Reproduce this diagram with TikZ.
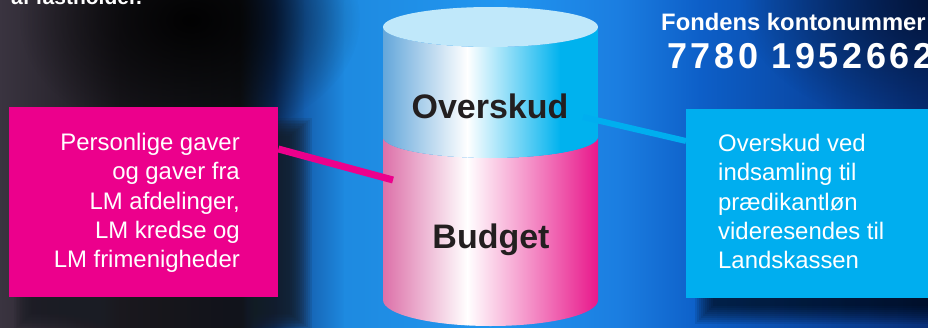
\documentclass[tikz,border=0pt]{standalone}
\usepackage{fontspec}
\setmainfont{Liberation Sans}
\usetikzlibrary{fadings,calc}
\definecolor{bgA}{HTML}{3A3440}
\definecolor{bgB}{HTML}{1A181E}
\definecolor{bgC}{HTML}{101216}
\definecolor{bgD}{HTML}{0B2A58}
\definecolor{bgE}{HTML}{1560B0}
\definecolor{bgF}{HTML}{1E8AE0}
\definecolor{bgG}{HTML}{2196F0}
\definecolor{bgH}{HTML}{1B7DE0}
\definecolor{bgI}{HTML}{0D5FC8}
\definecolor{bgJ}{HTML}{0A4AA8}
\definecolor{bgK}{HTML}{082F78}
\definecolor{navy}{HTML}{021030}
\definecolor{shad}{HTML}{1A1C24}
\definecolor{lmpink}{HTML}{EC008C}
\definecolor{lmcyan}{HTML}{00AEEF}
\definecolor{cylTop}{HTML}{C0E8FA}
\definecolor{cylBlueL}{HTML}{62A6DA}
\definecolor{cylBlueR}{HTML}{00B2EE}
\definecolor{cylPinkL}{HTML}{DC6FA8}
\definecolor{cylPinkR}{HTML}{E8168A}
\definecolor{darktext}{HTML}{231F20}
\tikzfading[name=fadeout, inner color=transparent!0, outer color=transparent!100]
\tikzset{
  pinkbox/.style={fill=lmpink, draw=none, inner sep=0pt, minimum width=269pt, minimum height=190pt, anchor=north west},
  cyanbox/.style={fill=lmcyan, draw=none, inner sep=0pt, minimum width=262pt, minimum height=189pt, anchor=north west},
  bodytext/.style={text=white, inner sep=0pt, font=\fontsize{23.9}{29.3}\selectfont},
  cyltext/.style={text=darktext, inner sep=0pt, anchor=base, font=\bfseries\fontsize{34}{40}\selectfont},
  pinkline/.style={draw=lmpink, line width=7pt},
  cyanline/.style={draw=lmcyan, line width=6pt},
  headtext/.style={text=white, inner sep=0pt, anchor=base west}
}
\begin{document}
\begin{tikzpicture}[x=1pt,y=-1pt]
\useasboundingbox (0,0) rectangle (928,327);
% background
\foreach \xa/\xb/\ca/\cb in {0/120/bgA/bgB, 120/240/bgB/bgC, 240/275/bgC/bgD, 275/305/bgD/bgE, 305/345/bgE/bgF, 345/500/bgF/bgG, 500/620/bgG/bgH, 620/700/bgH/bgI, 700/800/bgI/bgJ, 800/928/bgJ/bgK}
  \shade[left color=\ca, right color=\cb] (\xa-0.4,-2) rectangle (\xb+0.4,329);
\fill[black, path fading=fadeout, fill opacity=0.9] (190,20) ellipse [x radius=170, y radius=120];
\fill[navy, path fading=fadeout, fill opacity=0.9] (940,0) ellipse [x radius=200, y radius=130];
% shadows
\foreach \i in {0,...,11}
  \fill[shad, fill opacity=0.11] (14+\i*1.5,118+\i*1.6) rectangle (312-\i*2,330-\i*1.5);
\foreach \i in {0,...,9}
  \fill[black, fill opacity=0.09] (695+\i*2,114+\i) rectangle (940,324-\i*2);
% cylinder
\begin{scope}
  \clip (383,137) arc[start angle=180, end angle=0, x radius=107.5, y radius=21]
        -- (598,300) arc[start angle=0, end angle=180, x radius=107.5, y radius=26] -- cycle;
  \shade[left color=cylPinkL, right color=white] (382,100) rectangle (467.5,330);
  \shade[left color=white, right color=cylPinkR] (467,100) rectangle (599,330);
\end{scope}
\begin{scope}
  \clip (383,27) -- (383,137) arc[start angle=180, end angle=0, x radius=107.5, y radius=21]
        -- (598,27) arc[start angle=0, end angle=180, x radius=107.5, y radius=20] -- cycle;
  \shade[left color=cylBlueL, right color=white] (382,0) rectangle (467.5,170);
  \shade[left color=white, right color=cylBlueR] (467,0) rectangle (560.5,170);
  \fill[cylBlueR] (560,0) rectangle (599,170);
\end{scope}
\fill[cylTop] (490.5,27) ellipse [x radius=107.5, y radius=20];
\node[cyltext] (ovr) at (490,118) {Overskud};
\node[cyltext] (bud) at (491,248) {Budget};
\coordinate (cylL) at (393,180);
\coordinate (cylR) at (583,117);
% boxes
\node[pinkbox] (pbox) at (9,107) {};
\node[cyanbox] (cbox) at (686,109) {};
\node[bodytext, anchor=north east, align=right] (ptext) at (240,133)
  {Personlige gaver\\og gaver fra\\LM afdelinger,\\LM kredse og\\LM frimenigheder};
\node[bodytext, anchor=north west, align=left] (ctext) at (718,134)
  {Overskud ved\\indsamling til\\prædikantløn\\videresendes til\\Landskassen};
% connectors
\draw[pinkline] ($(pbox.north east)+(0,42)$) -- (cylL);
\draw[cyanline] (cylR) -- ($(cbox.north west)+(0,32)$);
% header texts
\node[headtext, font=\bfseries\fontsize{21}{25}\selectfont] (cut) at (11,4) {af fastholder.};
\node[headtext, font=\bfseries\fontsize{23.8}{28}\selectfont] (ttl) at (661,30.5) {Fondens kontonummer};
\node[headtext, font=\bfseries\fontsize{36}{40}\selectfont\addfontfeature{LetterSpace=10}] (acct) at (667,68.3) {7780 1952662};
\end{tikzpicture}
\end{document}
